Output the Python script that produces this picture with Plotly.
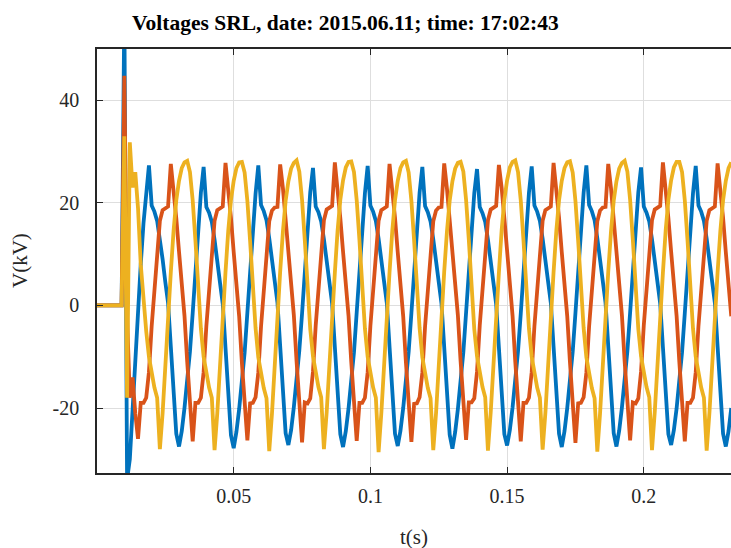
import plotly.graph_objects as go

# ---------------- data (kV), one sample per millisecond ----------------
SAMPLE_STEP_S = 0.001

PHASE_A = [  # blue
    0, 0, 0, 0, 0, 0, 0, 0, 0, 0,
    58, -34, -30, -20, -12, -2, 8, 16, 22,
    27.3, 19.5, 18.3, 16.5, 13.0, 9.0, 4.5, 0.5, -8.0, -17.5, -25.0, -27.5, -24.5, -20.0, -15.0, -9.0, -1.5, 7.0, 15.5, 22.0,
    27.0, 19.2, 18.1, 16.3, 12.8, 9.1, 4.4, 0.3, -8.2, -17.8, -25.3, -27.8, -24.6, -20.2, -15.1, -9.2, -1.4, 7.2, 15.3, 21.8,
    27.3, 19.6, 18.4, 16.6, 13.1, 8.9, 4.6, 0.6, -7.9, -17.4, -24.9, -27.2, -24.3, -19.8, -14.9, -8.8, -1.6, 6.9, 15.6, 22.1,
    26.8, 19.3, 18.2, 16.4, 12.9, 9.0, 4.3, 0.4, -8.1, -17.6, -25.1, -27.6, -24.5, -20.1, -15.2, -9.1, -1.3, 7.1, 15.4, 21.9,
    27.2, 19.5, 18.3, 16.5, 13.0, 9.1, 4.5, 0.5, -8.0, -17.5, -25.0, -27.4, -24.4, -20.0, -15.0, -9.0, -1.5, 7.0, 15.5, 22.0,
    27.0, 19.4, 18.2, 16.4, 12.9, 8.9, 4.4, 0.4, -8.1, -17.7, -25.2, -27.9, -24.7, -20.2, -15.1, -9.1, -1.4, 7.1, 15.4, 21.9,
    26.6, 19.2, 18.0, 16.3, 12.8, 8.9, 4.4, 0.3, -8.2, -17.6, -25.1, -27.3, -24.3, -19.9, -14.9, -8.9, -1.6, 6.9, 15.6, 22.0,
    27.1, 19.5, 18.3, 16.5, 13.0, 9.0, 4.5, 0.5, -8.0, -17.5, -25.0, -27.6, -24.5, -20.0, -15.0, -9.0, -1.5, 7.0, 15.5, 22.0,
    27.3, 19.6, 18.4, 16.6, 13.1, 9.1, 4.6, 0.6, -7.9, -17.4, -24.9, -27.5, -24.4, -19.9, -14.9, -8.9, -1.4, 7.1, 15.6, 22.1,
    26.9, 19.3, 18.1, 16.4, 12.9, 8.9, 4.4, 0.4, -8.1, -17.6, -25.1, -27.2, -24.3, -20.1, -15.1, -9.1, -1.5, 7.0, 15.4, 21.9,
    27.2, 19.5, 18.3, 16.5, 13.0, 9.0, 4.5, 0.5, -8.0, -17.5, -25.0, -27.5, -24.5, -20.0,
]

PHASE_B = [  # orange
    0, 0, 0, 0, 0, 0, 0, 0, 0, 0,
    44.8, -2, -18, -14, -21, -26, -19, -19, -18, -13, -4, 3, 10, 16.5, 18.6, 19, 19.3,
    27.6, 23.0, 17.0, 10.5, 4.5, -2.0, -11.0, -20.0, -26.5, -19.0, -19.0, -18.0, -13.0, -4.0, 3.0, 10.0, 16.5, 18.6, 19.0, 19.3,
    27.8, 23.2, 17.1, 10.4, 4.4, -2.1, -11.2, -20.1, -26.3, -19.1, -19.0, -17.9, -13.1, -4.1, 3.1, 10.1, 16.4, 18.5, 19.1, 19.2,
    27.5, 22.9, 16.9, 10.6, 4.6, -1.9, -10.9, -19.9, -26.7, -18.9, -19.1, -18.1, -12.9, -3.9, 2.9, 9.9, 16.6, 18.7, 19.0, 19.4,
    27.9, 23.1, 17.0, 10.5, 4.5, -2.0, -11.0, -20.0, -26.4, -19.0, -19.0, -18.0, -13.0, -4.0, 3.0, 10.0, 16.5, 18.6, 19.0, 19.3,
    27.6, 23.0, 17.1, 10.4, 4.4, -2.1, -11.1, -20.2, -26.6, -19.2, -19.1, -17.9, -13.1, -4.1, 3.1, 10.1, 16.4, 18.5, 19.1, 19.2,
    27.7, 22.8, 16.9, 10.6, 4.6, -1.9, -10.9, -19.8, -26.2, -18.9, -18.9, -18.1, -12.9, -3.9, 2.9, 9.9, 16.6, 18.7, 19.0, 19.4,
    27.4, 23.0, 17.0, 10.5, 4.5, -2.0, -11.0, -20.0, -26.5, -19.0, -19.0, -18.0, -13.0, -4.0, 3.0, 10.0, 16.5, 18.6, 19.0, 19.3,
    27.8, 23.1, 17.1, 10.4, 4.4, -2.1, -11.1, -20.1, -26.8, -19.1, -19.0, -17.9, -13.1, -4.1, 3.1, 10.1, 16.4, 18.5, 19.1, 19.2,
    27.6, 22.9, 16.9, 10.6, 4.6, -1.9, -10.9, -19.9, -26.3, -18.9, -19.1, -18.1, -12.9, -3.9, 2.9, 9.9, 16.6, 18.7, 19.0, 19.4,
    27.9, 23.0, 17.0, 10.5, 4.5, -2.0, -11.0, -20.0, -26.5, -19.0, -19.0, -18.0, -13.0, -4.0, 3.0, 10.0, 16.5, 18.6, 19.0, 19.3,
    27.7, 23.1, 17.1, 10.4, 4.4, -2.1,
]

PHASE_C = [  # yellow
    0, 0, 0, 0, 0, 0, 0, 0, 0, 0,
    33, -18, 31.8, 23, 26, 19, 8, 1, -5, -10, -13.5, -16, -18, -28, -21, -11, -1, 6.5, 14.5, 20.5, 24.3, 26.8, 27.9,
    28.2, 26.0, 20.5, 12.7, 3.0, -4.5, -10.0, -13.5, -16.0, -18.0, -28.2, -21.0, -11.0, -1.0, 6.5, 14.5, 20.5, 24.3, 26.8, 27.9,
    28.0, 25.9, 20.4, 12.6, 3.1, -4.4, -10.1, -13.6, -16.1, -18.1, -28.4, -21.1, -11.1, -0.9, 6.6, 14.4, 20.4, 24.2, 26.7, 27.8,
    28.3, 26.1, 20.6, 12.8, 2.9, -4.6, -9.9, -13.4, -15.9, -17.9, -28.0, -20.9, -10.9, -1.1, 6.4, 14.6, 20.6, 24.4, 26.9, 28.0,
    28.1, 26.0, 20.5, 12.7, 3.0, -4.5, -10.0, -13.5, -16.0, -18.0, -28.6, -21.0, -11.0, -1.0, 6.5, 14.5, 20.5, 24.3, 26.8, 27.9,
    28.2, 25.9, 20.4, 12.6, 3.1, -4.4, -10.1, -13.6, -16.1, -18.1, -28.2, -21.1, -11.1, -0.9, 6.6, 14.4, 20.4, 24.2, 26.7, 27.8,
    28.0, 26.1, 20.6, 12.8, 2.9, -4.6, -9.9, -13.4, -15.9, -17.9, -28.3, -20.9, -10.9, -1.1, 6.4, 14.6, 20.6, 24.4, 26.9, 28.0,
    28.3, 26.0, 20.5, 12.7, 3.0, -4.5, -10.0, -13.5, -16.0, -18.0, -28.1, -21.0, -11.0, -1.0, 6.5, 14.5, 20.5, 24.3, 26.8, 27.9,
    28.1, 25.9, 20.4, 12.6, 3.1, -4.4, -10.1, -13.6, -16.1, -18.1, -28.5, -21.1, -11.1, -0.9, 6.6, 14.4, 20.4, 24.2, 26.7, 27.8,
    28.2, 26.1, 20.6, 12.8, 2.9, -4.6, -9.9, -13.4, -15.9, -17.9, -28.2, -20.9, -10.9, -1.1, 6.4, 14.6, 20.6, 24.4, 26.9, 28.0,
    28.0, 26.0, 20.5, 12.7, 3.0, -4.5, -10.0, -13.5, -16.0, -18.0, -28.3, -21.0, -11.0, -1.0, 6.5, 14.5, 20.5, 24.3, 26.8, 27.9,
]

X_TICKS = [0.05, 0.1, 0.15, 0.2]
X_TICK_LABELS = ["0.05", "0.1", "0.15", "0.2"]
Y_TICKS = [-20, 0, 20, 40]
Y_TICK_LABELS = ["-20", "0", "20", "40"]

TITLE = "Voltages SRL, date: 2015.06.11; time: 17:02:43"
X_LABEL = "t(s)"
Y_LABEL = "V(kV)"

SERIES = [("Va", PHASE_A, "#0072BD"), ("Vb", PHASE_B, "#D95319"), ("Vc", PHASE_C, "#EDB120")]

# ---------------- figure ----------------
FONT = "Liberation Serif"
AX_COLOR = "#262626"

fig = go.Figure()
for name, vals, color in SERIES:
    t = [i * SAMPLE_STEP_S for i in range(len(vals))]
    fig.add_trace(go.Scatter(x=t, y=vals, mode="lines", name=name,
                             line=dict(color=color, width=3.8), showlegend=False))

common = dict(ticks="inside", ticklen=6, tickwidth=1, tickcolor=AX_COLOR,
              showline=True, linecolor=AX_COLOR, linewidth=1.5,
              showgrid=True, gridcolor="#dedede", gridwidth=1, zeroline=False,
              tickfont=dict(family=FONT, size=20, color=AX_COLOR))

fig.update_layout(
    width=731, height=548,
    margin=dict(l=97, r=0, t=49, b=75),
    plot_bgcolor="white", paper_bgcolor="white",
    xaxis=dict(range=[0, 0.2319], tickvals=X_TICKS, ticktext=X_TICK_LABELS,
               mirror="ticks", ticklabelstandoff=4, **common),
    yaxis=dict(range=[-32.66, 50], tickvals=Y_TICKS, ticktext=Y_TICK_LABELS,
               mirror=False, ticklabelstandoff=12, **common),
    annotations=[
        dict(text="<b>" + TITLE + "</b>", xref="paper", yref="paper",
             x=(345 - 97) / 634, y=1, xanchor="center", yanchor="middle", yshift=26,
             showarrow=False, font=dict(family=FONT, size=21.5, color="#000000")),
        dict(text=X_LABEL, xref="paper", yref="paper", x=0.5, y=0,
             xanchor="center", yanchor="middle", yshift=-64, showarrow=False,
             font=dict(family=FONT, size=21, color=AX_COLOR)),
        dict(text=Y_LABEL, xref="paper", yref="paper", x=0, y=0.5,
             xanchor="center", yanchor="middle", xshift=-77, textangle=-90,
             showarrow=False, font=dict(family=FONT, size=21, color=AX_COLOR)),
    ],
)

fig.write_html("out.html")
